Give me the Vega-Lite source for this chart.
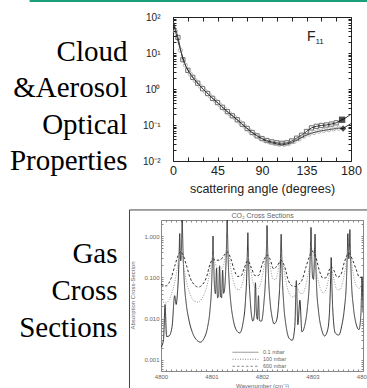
{
  "$schema": "https://vega.github.io/schema/vega-lite/v6.json",
  "autosize": {"type": "none"},
  "padding": {"left": 161, "top": 17, "right": 206, "bottom": 371},
  "background": "white",
  "config": {
    "view": {"stroke": null},
    "axis": {"grid": false, "labelFont": "Liberation Sans", "titleFont": "Liberation Sans", "labelOverlap": false, "labelFlush": false, "titleFontWeight": "normal"}
  },
  "datasets": {
    "phase": [
      {"angle": 0, "value": 80, "series": "sq"},
      {"angle": 5, "value": 27, "series": "sq"},
      {"angle": 10, "value": 6.5, "series": "sq"},
      {"angle": 15, "value": 3.3, "series": "sq"},
      {"angle": 20, "value": 2.1, "series": "sq"},
      {"angle": 25, "value": 1.45, "series": "sq"},
      {"angle": 30, "value": 1.02, "series": "sq"},
      {"angle": 35, "value": 0.75, "series": "sq"},
      {"angle": 40, "value": 0.55, "series": "sq"},
      {"angle": 45, "value": 0.42, "series": "sq"},
      {"angle": 50, "value": 0.31, "series": "sq"},
      {"angle": 55, "value": 0.235, "series": "sq"},
      {"angle": 60, "value": 0.18, "series": "sq"},
      {"angle": 65, "value": 0.14, "series": "sq"},
      {"angle": 70, "value": 0.105, "series": "sq"},
      {"angle": 75, "value": 0.08, "series": "sq"},
      {"angle": 80, "value": 0.062, "series": "sq"},
      {"angle": 85, "value": 0.05, "series": "sq"},
      {"angle": 90, "value": 0.042, "series": "sq"},
      {"angle": 95, "value": 0.037, "series": "sq"},
      {"angle": 100, "value": 0.034, "series": "sq"},
      {"angle": 105, "value": 0.032, "series": "sq"},
      {"angle": 110, "value": 0.031, "series": "sq"},
      {"angle": 115, "value": 0.032, "series": "sq"},
      {"angle": 120, "value": 0.036, "series": "sq"},
      {"angle": 125, "value": 0.043, "series": "sq"},
      {"angle": 130, "value": 0.052, "series": "sq"},
      {"angle": 135, "value": 0.066, "series": "sq"},
      {"angle": 140, "value": 0.083, "series": "sq"},
      {"angle": 145, "value": 0.092, "series": "sq"},
      {"angle": 150, "value": 0.097, "series": "sq"},
      {"angle": 155, "value": 0.1, "series": "sq"},
      {"angle": 160, "value": 0.106, "series": "sq"},
      {"angle": 165, "value": 0.115, "series": "sq"},
      {"angle": 170, "value": 0.135, "series": "sq"},
      {"angle": 175, "value": 0.16, "series": "sq"},
      {"angle": 180, "value": 0.2, "series": "sq"},
      {"angle": 0, "value": 80, "series": "ci"},
      {"angle": 2.5, "value": 40, "series": "ci"},
      {"angle": 7.5, "value": 12, "series": "ci"},
      {"angle": 12.5, "value": 4.6, "series": "ci"},
      {"angle": 17.5, "value": 2.6, "series": "ci"},
      {"angle": 22.5, "value": 1.7, "series": "ci"},
      {"angle": 27.5, "value": 1.2, "series": "ci"},
      {"angle": 32.5, "value": 0.87, "series": "ci"},
      {"angle": 37.5, "value": 0.64, "series": "ci"},
      {"angle": 42.5, "value": 0.48, "series": "ci"},
      {"angle": 47.5, "value": 0.36, "series": "ci"},
      {"angle": 52.5, "value": 0.27, "series": "ci"},
      {"angle": 57.5, "value": 0.205, "series": "ci"},
      {"angle": 62.5, "value": 0.16, "series": "ci"},
      {"angle": 67.5, "value": 0.12, "series": "ci"},
      {"angle": 72.5, "value": 0.092, "series": "ci"},
      {"angle": 77.5, "value": 0.07, "series": "ci"},
      {"angle": 82.5, "value": 0.055, "series": "ci"},
      {"angle": 87.5, "value": 0.045, "series": "ci"},
      {"angle": 92.5, "value": 0.038, "series": "ci"},
      {"angle": 97.5, "value": 0.034, "series": "ci"},
      {"angle": 102.5, "value": 0.031, "series": "ci"},
      {"angle": 107.5, "value": 0.029, "series": "ci"},
      {"angle": 112.5, "value": 0.029, "series": "ci"},
      {"angle": 117.5, "value": 0.031, "series": "ci"},
      {"angle": 122.5, "value": 0.035, "series": "ci"},
      {"angle": 127.5, "value": 0.041, "series": "ci"},
      {"angle": 132.5, "value": 0.049, "series": "ci"},
      {"angle": 137.5, "value": 0.056, "series": "ci"},
      {"angle": 142.5, "value": 0.062, "series": "ci"},
      {"angle": 147.5, "value": 0.067, "series": "ci"},
      {"angle": 152.5, "value": 0.071, "series": "ci"},
      {"angle": 157.5, "value": 0.074, "series": "ci"},
      {"angle": 162.5, "value": 0.078, "series": "ci"},
      {"angle": 167.5, "value": 0.082, "series": "ci"},
      {"angle": 172, "value": 0.08, "series": "ci"},
      {"angle": 180, "value": 0.11, "series": "ci"}
    ],
    "ends": [
      {"angle": 171, "value": 0.14, "series": "sq"},
      {"angle": 172, "value": 0.08, "series": "ci"}
    ],
    "spectra": [
      {"w": 4800.00, "c": 0.0020, "p": "0.1 mbar"},
      {"w": 4800.05, "c": 0.0031, "p": "0.1 mbar"},
      {"w": 4800.08, "c": 0.022, "p": "0.1 mbar"},
      {"w": 4800.11, "c": 0.0037, "p": "0.1 mbar"},
      {"w": 4800.16, "c": 0.0038, "p": "0.1 mbar"},
      {"w": 4800.22, "c": 0.0065, "p": "0.1 mbar"},
      {"w": 4800.27, "c": 0.036, "p": "0.1 mbar"},
      {"w": 4800.30, "c": 0.022, "p": "0.1 mbar"},
      {"w": 4800.33, "c": 0.050, "p": "0.1 mbar"},
      {"w": 4800.35, "c": 0.15, "p": "0.1 mbar"},
      {"w": 4800.36, "c": 0.40, "p": "0.1 mbar"},
      {"w": 4800.37, "c": 1.15, "p": "0.1 mbar"},
      {"w": 4800.38, "c": 0.44, "p": "0.1 mbar"},
      {"w": 4800.39, "c": 0.25, "p": "0.1 mbar"},
      {"w": 4800.40, "c": 0.34, "p": "0.1 mbar"},
      {"w": 4800.41, "c": 0.87, "p": "0.1 mbar"},
      {"w": 4800.42, "c": 2.5, "p": "0.1 mbar"},
      {"w": 4800.43, "c": 0.85, "p": "0.1 mbar"},
      {"w": 4800.44, "c": 0.29, "p": "0.1 mbar"},
      {"w": 4800.46, "c": 0.083, "p": "0.1 mbar"},
      {"w": 4800.50, "c": 0.023, "p": "0.1 mbar"},
      {"w": 4800.55, "c": 0.0097, "p": "0.1 mbar"},
      {"w": 4800.62, "c": 0.0047, "p": "0.1 mbar"},
      {"w": 4800.70, "c": 0.0031, "p": "0.1 mbar"},
      {"w": 4800.78, "c": 0.0027, "p": "0.1 mbar"},
      {"w": 4800.85, "c": 0.0033, "p": "0.1 mbar"},
      {"w": 4800.92, "c": 0.0060, "p": "0.1 mbar"},
      {"w": 4800.97, "c": 0.016, "p": "0.1 mbar"},
      {"w": 4801.00, "c": 0.055, "p": "0.1 mbar"},
      {"w": 4801.02, "c": 0.34, "p": "0.1 mbar"},
      {"w": 4801.03, "c": 1.0, "p": "0.1 mbar"},
      {"w": 4801.04, "c": 0.34, "p": "0.1 mbar"},
      {"w": 4801.06, "c": 0.060, "p": "0.1 mbar"},
      {"w": 4801.08, "c": 0.040, "p": "0.1 mbar"},
      {"w": 4801.10, "c": 0.165, "p": "0.1 mbar"},
      {"w": 4801.12, "c": 0.032, "p": "0.1 mbar"},
      {"w": 4801.14, "c": 0.034, "p": "0.1 mbar"},
      {"w": 4801.16, "c": 0.19, "p": "0.1 mbar"},
      {"w": 4801.18, "c": 0.035, "p": "0.1 mbar"},
      {"w": 4801.20, "c": 0.032, "p": "0.1 mbar"},
      {"w": 4801.22, "c": 0.15, "p": "0.1 mbar"},
      {"w": 4801.24, "c": 0.041, "p": "0.1 mbar"},
      {"w": 4801.26, "c": 0.053, "p": "0.1 mbar"},
      {"w": 4801.28, "c": 0.135, "p": "0.1 mbar"},
      {"w": 4801.29, "c": 0.28, "p": "0.1 mbar"},
      {"w": 4801.30, "c": 0.84, "p": "0.1 mbar"},
      {"w": 4801.31, "c": 2.5, "p": "0.1 mbar"},
      {"w": 4801.32, "c": 0.84, "p": "0.1 mbar"},
      {"w": 4801.33, "c": 0.28, "p": "0.1 mbar"},
      {"w": 4801.35, "c": 0.077, "p": "0.1 mbar"},
      {"w": 4801.38, "c": 0.026, "p": "0.1 mbar"},
      {"w": 4801.43, "c": 0.0095, "p": "0.1 mbar"},
      {"w": 4801.50, "c": 0.0051, "p": "0.1 mbar"},
      {"w": 4801.56, "c": 0.0045, "p": "0.1 mbar"},
      {"w": 4801.62, "c": 0.0074, "p": "0.1 mbar"},
      {"w": 4801.67, "c": 0.0245, "p": "0.1 mbar"},
      {"w": 4801.70, "c": 0.134, "p": "0.1 mbar"},
      {"w": 4801.71, "c": 0.40, "p": "0.1 mbar"},
      {"w": 4801.72, "c": 1.2, "p": "0.1 mbar"},
      {"w": 4801.73, "c": 0.40, "p": "0.1 mbar"},
      {"w": 4801.74, "c": 0.134, "p": "0.1 mbar"},
      {"w": 4801.77, "c": 0.025, "p": "0.1 mbar"},
      {"w": 4801.82, "c": 0.0087, "p": "0.1 mbar"},
      {"w": 4801.85, "c": 0.013, "p": "0.1 mbar"},
      {"w": 4801.87, "c": 0.074, "p": "0.1 mbar"},
      {"w": 4801.89, "c": 0.0128, "p": "0.1 mbar"},
      {"w": 4801.91, "c": 0.0096, "p": "0.1 mbar"},
      {"w": 4801.93, "c": 0.036, "p": "0.1 mbar"},
      {"w": 4801.95, "c": 0.009, "p": "0.1 mbar"},
      {"w": 4801.99, "c": 0.0087, "p": "0.1 mbar"},
      {"w": 4802.04, "c": 0.026, "p": "0.1 mbar"},
      {"w": 4802.07, "c": 0.096, "p": "0.1 mbar"},
      {"w": 4802.09, "c": 0.60, "p": "0.1 mbar"},
      {"w": 4802.10, "c": 1.8, "p": "0.1 mbar"},
      {"w": 4802.11, "c": 0.60, "p": "0.1 mbar"},
      {"w": 4802.13, "c": 0.095, "p": "0.1 mbar"},
      {"w": 4802.16, "c": 0.026, "p": "0.1 mbar"},
      {"w": 4802.20, "c": 0.0107, "p": "0.1 mbar"},
      {"w": 4802.24, "c": 0.0075, "p": "0.1 mbar"},
      {"w": 4802.28, "c": 0.0085, "p": "0.1 mbar"},
      {"w": 4802.33, "c": 0.024, "p": "0.1 mbar"},
      {"w": 4802.36, "c": 0.123, "p": "0.1 mbar"},
      {"w": 4802.37, "c": 0.37, "p": "0.1 mbar"},
      {"w": 4802.38, "c": 1.1, "p": "0.1 mbar"},
      {"w": 4802.39, "c": 0.37, "p": "0.1 mbar"},
      {"w": 4802.40, "c": 0.123, "p": "0.1 mbar"},
      {"w": 4802.43, "c": 0.023, "p": "0.1 mbar"},
      {"w": 4802.48, "c": 0.0063, "p": "0.1 mbar"},
      {"w": 4802.54, "c": 0.0033, "p": "0.1 mbar"},
      {"w": 4802.60, "c": 0.0030, "p": "0.1 mbar"},
      {"w": 4802.65, "c": 0.0065, "p": "0.1 mbar"},
      {"w": 4802.68, "c": 0.083, "p": "0.1 mbar"},
      {"w": 4802.71, "c": 0.0071, "p": "0.1 mbar"},
      {"w": 4802.75, "c": 0.028, "p": "0.1 mbar"},
      {"w": 4802.79, "c": 0.0048, "p": "0.1 mbar"},
      {"w": 4802.85, "c": 0.0072, "p": "0.1 mbar"},
      {"w": 4802.90, "c": 0.019, "p": "0.1 mbar"},
      {"w": 4802.94, "c": 0.089, "p": "0.1 mbar"},
      {"w": 4802.96, "c": 0.54, "p": "0.1 mbar"},
      {"w": 4802.97, "c": 1.61, "p": "0.1 mbar"},
      {"w": 4802.98, "c": 0.545, "p": "0.1 mbar"},
      {"w": 4803.00, "c": 0.106, "p": "0.1 mbar"},
      {"w": 4803.02, "c": 0.089, "p": "0.1 mbar"},
      {"w": 4803.04, "c": 0.383, "p": "0.1 mbar"},
      {"w": 4803.05, "c": 1.11, "p": "0.1 mbar"},
      {"w": 4803.06, "c": 0.377, "p": "0.1 mbar"},
      {"w": 4803.08, "c": 0.064, "p": "0.1 mbar"},
      {"w": 4803.12, "c": 0.015, "p": "0.1 mbar"},
      {"w": 4803.18, "c": 0.0055, "p": "0.1 mbar"},
      {"w": 4803.24, "c": 0.0038, "p": "0.1 mbar"},
      {"w": 4803.30, "c": 0.0053, "p": "0.1 mbar"},
      {"w": 4803.34, "c": 0.018, "p": "0.1 mbar"},
      {"w": 4803.36, "c": 0.102, "p": "0.1 mbar"},
      {"w": 4803.37, "c": 0.302, "p": "0.1 mbar"},
      {"w": 4803.38, "c": 0.10, "p": "0.1 mbar"},
      {"w": 4803.40, "c": 0.018, "p": "0.1 mbar"},
      {"w": 4803.45, "c": 0.0045, "p": "0.1 mbar"},
      {"w": 4803.52, "c": 0.0040, "p": "0.1 mbar"},
      {"w": 4803.58, "c": 0.0068, "p": "0.1 mbar"},
      {"w": 4803.63, "c": 0.017, "p": "0.1 mbar"},
      {"w": 4803.67, "c": 0.072, "p": "0.1 mbar"},
      {"w": 4803.69, "c": 0.39, "p": "0.1 mbar"},
      {"w": 4803.70, "c": 1.14, "p": "0.1 mbar"},
      {"w": 4803.71, "c": 0.44, "p": "0.1 mbar"},
      {"w": 4803.72, "c": 0.28, "p": "0.1 mbar"},
      {"w": 4803.73, "c": 0.525, "p": "0.1 mbar"},
      {"w": 4803.74, "c": 1.43, "p": "0.1 mbar"},
      {"w": 4803.75, "c": 0.49, "p": "0.1 mbar"},
      {"w": 4803.77, "c": 0.085, "p": "0.1 mbar"},
      {"w": 4803.81, "c": 0.019, "p": "0.1 mbar"},
      {"w": 4803.86, "c": 0.0078, "p": "0.1 mbar"},
      {"w": 4803.92, "c": 0.0054, "p": "0.1 mbar"},
      {"w": 4803.96, "c": 0.014, "p": "0.1 mbar"},
      {"w": 4803.98, "c": 0.103, "p": "0.1 mbar"},
      {"w": 4804.00, "c": 0.014, "p": "0.1 mbar"},
      {"w": 4800.00, "c": 0.027, "p": "100 mbar"},
      {"w": 4800.10, "c": 0.024, "p": "100 mbar"},
      {"w": 4800.20, "c": 0.037, "p": "100 mbar"},
      {"w": 4800.27, "c": 0.074, "p": "100 mbar"},
      {"w": 4800.32, "c": 0.158, "p": "100 mbar"},
      {"w": 4800.36, "c": 0.337, "p": "100 mbar"},
      {"w": 4800.39, "c": 0.456, "p": "100 mbar"},
      {"w": 4800.42, "c": 0.337, "p": "100 mbar"},
      {"w": 4800.46, "c": 0.158, "p": "100 mbar"},
      {"w": 4800.51, "c": 0.074, "p": "100 mbar"},
      {"w": 4800.58, "c": 0.038, "p": "100 mbar"},
      {"w": 4800.66, "c": 0.0266, "p": "100 mbar"},
      {"w": 4800.74, "c": 0.025, "p": "100 mbar"},
      {"w": 4800.82, "c": 0.032, "p": "100 mbar"},
      {"w": 4800.90, "c": 0.056, "p": "100 mbar"},
      {"w": 4800.96, "c": 0.121, "p": "100 mbar"},
      {"w": 4801.00, "c": 0.245, "p": "100 mbar"},
      {"w": 4801.03, "c": 0.332, "p": "100 mbar"},
      {"w": 4801.07, "c": 0.228, "p": "100 mbar"},
      {"w": 4801.12, "c": 0.163, "p": "100 mbar"},
      {"w": 4801.16, "c": 0.186, "p": "100 mbar"},
      {"w": 4801.20, "c": 0.165, "p": "100 mbar"},
      {"w": 4801.24, "c": 0.199, "p": "100 mbar"},
      {"w": 4801.28, "c": 0.36, "p": "100 mbar"},
      {"w": 4801.31, "c": 0.475, "p": "100 mbar"},
      {"w": 4801.34, "c": 0.353, "p": "100 mbar"},
      {"w": 4801.38, "c": 0.171, "p": "100 mbar"},
      {"w": 4801.43, "c": 0.084, "p": "100 mbar"},
      {"w": 4801.49, "c": 0.053, "p": "100 mbar"},
      {"w": 4801.55, "c": 0.050, "p": "100 mbar"},
      {"w": 4801.60, "c": 0.064, "p": "100 mbar"},
      {"w": 4801.65, "c": 0.116, "p": "100 mbar"},
      {"w": 4801.69, "c": 0.234, "p": "100 mbar"},
      {"w": 4801.72, "c": 0.315, "p": "100 mbar"},
      {"w": 4801.76, "c": 0.198, "p": "100 mbar"},
      {"w": 4801.81, "c": 0.088, "p": "100 mbar"},
      {"w": 4801.87, "c": 0.053, "p": "100 mbar"},
      {"w": 4801.93, "c": 0.054, "p": "100 mbar"},
      {"w": 4801.99, "c": 0.086, "p": "100 mbar"},
      {"w": 4802.04, "c": 0.178, "p": "100 mbar"},
      {"w": 4802.07, "c": 0.308, "p": "100 mbar"},
      {"w": 4802.10, "c": 0.416, "p": "100 mbar"},
      {"w": 4802.13, "c": 0.31, "p": "100 mbar"},
      {"w": 4802.17, "c": 0.156, "p": "100 mbar"},
      {"w": 4802.22, "c": 0.091, "p": "100 mbar"},
      {"w": 4802.27, "c": 0.088, "p": "100 mbar"},
      {"w": 4802.31, "c": 0.125, "p": "100 mbar"},
      {"w": 4802.35, "c": 0.238, "p": "100 mbar"},
      {"w": 4802.38, "c": 0.316, "p": "100 mbar"},
      {"w": 4802.41, "c": 0.233, "p": "100 mbar"},
      {"w": 4802.45, "c": 0.114, "p": "100 mbar"},
      {"w": 4802.50, "c": 0.057, "p": "100 mbar"},
      {"w": 4802.56, "c": 0.036, "p": "100 mbar"},
      {"w": 4802.62, "c": 0.033, "p": "100 mbar"},
      {"w": 4802.66, "c": 0.040, "p": "100 mbar"},
      {"w": 4802.70, "c": 0.054, "p": "100 mbar"},
      {"w": 4802.75, "c": 0.041, "p": "100 mbar"},
      {"w": 4802.80, "c": 0.040, "p": "100 mbar"},
      {"w": 4802.86, "c": 0.059, "p": "100 mbar"},
      {"w": 4802.92, "c": 0.132, "p": "100 mbar"},
      {"w": 4802.96, "c": 0.28, "p": "100 mbar"},
      {"w": 4803.00, "c": 0.457, "p": "100 mbar"},
      {"w": 4803.04, "c": 0.282, "p": "100 mbar"},
      {"w": 4803.09, "c": 0.115, "p": "100 mbar"},
      {"w": 4803.15, "c": 0.056, "p": "100 mbar"},
      {"w": 4803.21, "c": 0.042, "p": "100 mbar"},
      {"w": 4803.27, "c": 0.051, "p": "100 mbar"},
      {"w": 4803.32, "c": 0.093, "p": "100 mbar"},
      {"w": 4803.37, "c": 0.167, "p": "100 mbar"},
      {"w": 4803.42, "c": 0.095, "p": "100 mbar"},
      {"w": 4803.48, "c": 0.051, "p": "100 mbar"},
      {"w": 4803.54, "c": 0.050, "p": "100 mbar"},
      {"w": 4803.60, "c": 0.079, "p": "100 mbar"},
      {"w": 4803.65, "c": 0.162, "p": "100 mbar"},
      {"w": 4803.69, "c": 0.34, "p": "100 mbar"},
      {"w": 4803.72, "c": 0.46, "p": "100 mbar"},
      {"w": 4803.76, "c": 0.284, "p": "100 mbar"},
      {"w": 4803.81, "c": 0.116, "p": "100 mbar"},
      {"w": 4803.87, "c": 0.061, "p": "100 mbar"},
      {"w": 4803.93, "c": 0.054, "p": "100 mbar"},
      {"w": 4803.98, "c": 0.069, "p": "100 mbar"},
      {"w": 4804.00, "c": 0.064, "p": "100 mbar"},
      {"w": 4800.00, "c": 0.068, "p": "600 mbar"},
      {"w": 4800.10, "c": 0.062, "p": "600 mbar"},
      {"w": 4800.20, "c": 0.095, "p": "600 mbar"},
      {"w": 4800.28, "c": 0.202, "p": "600 mbar"},
      {"w": 4800.34, "c": 0.34, "p": "600 mbar"},
      {"w": 4800.39, "c": 0.42, "p": "600 mbar"},
      {"w": 4800.44, "c": 0.34, "p": "600 mbar"},
      {"w": 4800.50, "c": 0.202, "p": "600 mbar"},
      {"w": 4800.58, "c": 0.095, "p": "600 mbar"},
      {"w": 4800.66, "c": 0.066, "p": "600 mbar"},
      {"w": 4800.74, "c": 0.058, "p": "600 mbar"},
      {"w": 4800.82, "c": 0.066, "p": "600 mbar"},
      {"w": 4800.90, "c": 0.10, "p": "600 mbar"},
      {"w": 4800.97, "c": 0.205, "p": "600 mbar"},
      {"w": 4801.03, "c": 0.279, "p": "600 mbar"},
      {"w": 4801.10, "c": 0.259, "p": "600 mbar"},
      {"w": 4801.17, "c": 0.262, "p": "600 mbar"},
      {"w": 4801.24, "c": 0.327, "p": "600 mbar"},
      {"w": 4801.31, "c": 0.413, "p": "600 mbar"},
      {"w": 4801.38, "c": 0.288, "p": "600 mbar"},
      {"w": 4801.45, "c": 0.15, "p": "600 mbar"},
      {"w": 4801.52, "c": 0.105, "p": "600 mbar"},
      {"w": 4801.59, "c": 0.11, "p": "600 mbar"},
      {"w": 4801.65, "c": 0.17, "p": "600 mbar"},
      {"w": 4801.72, "c": 0.252, "p": "600 mbar"},
      {"w": 4801.79, "c": 0.17, "p": "600 mbar"},
      {"w": 4801.86, "c": 0.11, "p": "600 mbar"},
      {"w": 4801.93, "c": 0.11, "p": "600 mbar"},
      {"w": 4802.00, "c": 0.199, "p": "600 mbar"},
      {"w": 4802.05, "c": 0.284, "p": "600 mbar"},
      {"w": 4802.10, "c": 0.346, "p": "600 mbar"},
      {"w": 4802.16, "c": 0.275, "p": "600 mbar"},
      {"w": 4802.23, "c": 0.16, "p": "600 mbar"},
      {"w": 4802.30, "c": 0.19, "p": "600 mbar"},
      {"w": 4802.38, "c": 0.255, "p": "600 mbar"},
      {"w": 4802.45, "c": 0.179, "p": "600 mbar"},
      {"w": 4802.52, "c": 0.085, "p": "600 mbar"},
      {"w": 4802.60, "c": 0.062, "p": "600 mbar"},
      {"w": 4802.66, "c": 0.06, "p": "600 mbar"},
      {"w": 4802.73, "c": 0.068, "p": "600 mbar"},
      {"w": 4802.80, "c": 0.09, "p": "600 mbar"},
      {"w": 4802.87, "c": 0.176, "p": "600 mbar"},
      {"w": 4802.94, "c": 0.319, "p": "600 mbar"},
      {"w": 4803.00, "c": 0.426, "p": "600 mbar"},
      {"w": 4803.07, "c": 0.296, "p": "600 mbar"},
      {"w": 4803.14, "c": 0.14, "p": "600 mbar"},
      {"w": 4803.21, "c": 0.095, "p": "600 mbar"},
      {"w": 4803.28, "c": 0.10, "p": "600 mbar"},
      {"w": 4803.33, "c": 0.15, "p": "600 mbar"},
      {"w": 4803.37, "c": 0.179, "p": "600 mbar"},
      {"w": 4803.42, "c": 0.15, "p": "600 mbar"},
      {"w": 4803.49, "c": 0.10, "p": "600 mbar"},
      {"w": 4803.56, "c": 0.115, "p": "600 mbar"},
      {"w": 4803.63, "c": 0.23, "p": "600 mbar"},
      {"w": 4803.72, "c": 0.383, "p": "600 mbar"},
      {"w": 4803.79, "c": 0.27, "p": "600 mbar"},
      {"w": 4803.86, "c": 0.162, "p": "600 mbar"},
      {"w": 4803.93, "c": 0.10, "p": "600 mbar"},
      {"w": 4804.00, "c": 0.10, "p": "600 mbar"}
    ]
  },
  "spacing": 59,
  "bounds": "flush",
  "center": true,
  "vconcat": [
    {
      "width": 178,
      "height": 144,
      "view": {"stroke": "#222", "strokeWidth": 1},
      "resolve": {"axis": {"x": "independent", "y": "independent"}},
      "layer": [
        {
          "data": {"name": "phase"},
          "mark": {"type": "line", "color": "#333", "strokeWidth": 1, "clip": true},
          "encoding": {
            "x": {"field": "angle", "type": "quantitative",
              "scale": {"domain": [0, 180], "nice": false, "zero": false},
              "axis": {"orient": "bottom", "values": [0,15,30,45,60,75,90,105,120,135,150,165,180],
                "labelExpr": "datum.value % 45 === 0 ? datum.label : ''",
                "tickSize": -4, "tickColor": "#222", "domain": false,
                "labelFontSize": 12.5, "labelColor": "#222", "labelPadding": 7,
                "title": "scattering angle (degrees)", "titleFontSize": 12.5, "titleColor": "#222",
                "titleX": 89, "titleY": 27, "titleBaseline": "middle", "titleAlign": "center"}},
            "y": {"field": "value", "type": "quantitative",
              "scale": {"type": "log", "domain": [0.01, 100], "nice": false},
              "axis": {"orient": "left", "values": [0.01,0.02,0.03,0.04,0.05,0.06,0.07,0.08,0.09,0.1,0.2,0.3,0.4,0.5,0.6,0.7,0.8,0.9,1,2,3,4,5,6,7,8,9,10,20,30,40,50,60,70,80,90,100],
                "labelExpr": "datum.value === 100 ? '10²' : datum.value === 10 ? '10¹' : datum.value === 1 ? '10⁰' : datum.value === 0.1 ? '10⁻¹' : datum.value === 0.01 ? '10⁻²' : ''",
                "tickSize": -3, "tickColor": "#222", "domain": false,
                "labelFontSize": 10, "labelColor": "#222", "labelPadding": 16,
                "title": ["Cloud", "&Aerosol", "Optical", "Properties"],
                "titleFont": "Liberation Serif", "titleFontSize": 29, "titleColor": "#000",
                "titleAngle": 0, "titleAlign": "right", "titleBaseline": "alphabetic",
                "titleX": -46, "titleY": 43, "titleLineHeight": 36.5}},
            "detail": {"field": "series"}
          }
        },
        {
          "data": {"name": "phase"},
          "transform": [{"filter": "datum.angle > 1 && datum.angle < 169"}],
          "mark": {"type": "point", "filled": false, "size": 18, "strokeWidth": 1, "clip": true},
          "encoding": {
            "x": {"field": "angle", "type": "quantitative",
              "axis": {"orient": "top", "values": [0,15,30,45,60,75,90,105,120,135,150,165,180], "labels": false, "tickSize": -4, "tickColor": "#222", "domain": false, "title": null}},
            "y": {"field": "value", "type": "quantitative",
              "axis": {"orient": "right", "values": [0.01,0.02,0.03,0.04,0.05,0.06,0.07,0.08,0.09,0.1,0.2,0.3,0.4,0.5,0.6,0.7,0.8,0.9,1,2,3,4,5,6,7,8,9,10,20,30,40,50,60,70,80,90,100], "labels": false, "tickSize": -3, "tickColor": "#222", "domain": false, "title": null}},
            "shape": {"field": "series", "type": "nominal", "scale": {"domain": ["sq", "ci"], "range": ["square", "circle"]}, "legend": null},
            "color": {"field": "series", "type": "nominal", "scale": {"domain": ["sq", "ci"], "range": ["#333", "#999"]}, "legend": null}
          }
        },
        {
          "data": {"name": "ends"},
          "transform": [{"filter": "datum.series === 'sq'"}],
          "mark": {"type": "point", "filled": true, "shape": "square", "size": 40, "color": "#000"},
          "encoding": {
            "x": {"field": "angle", "type": "quantitative", "axis": null},
            "y": {"field": "value", "type": "quantitative", "axis": null}
          }
        },
        {
          "data": {"name": "ends"},
          "transform": [{"filter": "datum.series === 'ci'"}],
          "mark": {"type": "point", "filled": true, "shape": "diamond", "size": 40, "color": "#000"},
          "encoding": {
            "x": {"field": "angle", "type": "quantitative", "axis": null},
            "y": {"field": "value", "type": "quantitative", "axis": null}
          }
        },
        {
          "data": {"values": [{"angle": 135.5, "value": 28, "t": "F", "s": "11"}]},
          "mark": {"type": "text", "font": "Liberation Sans", "fontSize": 14, "align": "left", "baseline": "middle", "color": "#222"},
          "encoding": {
            "x": {"field": "angle", "type": "quantitative", "axis": null},
            "y": {"field": "value", "type": "quantitative", "axis": null},
            "text": {"field": "t"}
          }
        },
        {
          "data": {"values": [{"angle": 135.5, "value": 28, "t": "F", "s": "11"}]},
          "mark": {"type": "text", "font": "Liberation Sans", "fontSize": 8, "align": "left", "baseline": "middle", "dx": 8.5, "dy": 5, "color": "#222"},
          "encoding": {
            "x": {"field": "angle", "type": "quantitative", "axis": null},
            "y": {"field": "value", "type": "quantitative", "axis": null},
            "text": {"field": "s"}
          }
        },
        {
          "data": {"values": [{}]},
          "mark": {"type": "rule", "color": "#1a9f7a", "strokeWidth": 2, "clip": false},
          "encoding": {
            "x": {"datum": -145, "type": "quantitative", "axis": null},
            "x2": {"datum": 200},
            "y": {"datum": 278, "type": "quantitative", "axis": null}
          }
        }
      ]
    },
    {
      "width": 202,
      "height": 151,
      "view": {"stroke": "#888", "strokeWidth": 1},
      "resolve": {"axis": {"x": "independent", "y": "independent"}},
      "layer": [
        {
          "data": {"name": "spectra"},
          "mark": {"type": "line", "strokeWidth": 1, "clip": true, "interpolate": "monotone"},
          "encoding": {
            "x": {"field": "w", "type": "quantitative",
              "scale": {"domain": [4800, 4804], "nice": false, "zero": false},
              "axis": {"orient": "bottom", "values": [4800,4800.1,4800.2,4800.3,4800.4,4800.5,4800.6,4800.7,4800.8,4800.9,4801,4801.1,4801.2,4801.3,4801.4,4801.5,4801.6,4801.7,4801.8,4801.9,4802,4802.1,4802.2,4802.3,4802.4,4802.5,4802.6,4802.7,4802.8,4802.9,4803,4803.1,4803.2,4803.3,4803.4,4803.5,4803.6,4803.7,4803.8,4803.9,4804],
                "labelExpr": "datum.value % 1 === 0 ? format(datum.value, 'd') : ''",
                "tickSize": -2, "tickColor": "#888", "domain": false,
                "labelFontSize": 6, "labelColor": "#666", "labelPadding": 4,
                "title": "Wavenumber (cm⁻¹)", "titleFontSize": 6, "titleColor": "#666",
                "titleX": 101, "titleY": 14, "titleBaseline": "middle", "titleAlign": "center"}},
            "y": {"field": "c", "type": "quantitative",
              "scale": {"type": "log", "domain": [0.00054, 2.44], "nice": false},
              "axis": {"orient": "left", "values": [0.0006,0.0007,0.0008,0.0009,0.001,0.002,0.003,0.004,0.005,0.006,0.007,0.008,0.009,0.01,0.02,0.03,0.04,0.05,0.06,0.07,0.08,0.09,0.1,0.2,0.3,0.4,0.5,0.6,0.7,0.8,0.9,1,2],
                "labelExpr": "datum.value === 1 ? '1.000' : datum.value === 0.1 ? '0.100' : datum.value === 0.01 ? '0.010' : datum.value === 0.001 ? '0.001' : ''",
                "tickSize": -2, "tickColor": "#888", "domain": false,
                "labelFontSize": 6, "labelColor": "#666", "labelPadding": 4,
                "title": "Absorption Cross-Section", "titleFontSize": 6, "titleColor": "#666",
                "titleX": -29, "titleY": 75, "titleAngle": -90, "titleBaseline": "middle", "titleAlign": "center"}},
            "color": {"field": "p", "type": "nominal", "title": null,
              "scale": {"domain": ["0.1 mbar", "100 mbar", "600 mbar"], "range": ["#444", "#bbb", "#a5a5a5"]},
              "legend": {"orient": "none", "legendX": 71, "legendY": 332, "title": null, "symbolType": "stroke", "symbolSize": 676, "symbolStrokeWidth": 1, "clipHeight": 6.5, "labelFontSize": 5.5, "labelFont": "Liberation Sans", "labelColor": "#666", "labelOffset": 4, "rowPadding": 0, "padding": 0}},
            "strokeDash": {"field": "p", "type": "nominal", "title": null,
              "scale": {"domain": ["0.1 mbar", "100 mbar", "600 mbar"], "range": [[1, 0], [1, 1.5], [2.5, 2]]},
              "legend": {"orient": "none", "legendX": 71, "legendY": 332, "title": null, "symbolType": "stroke", "symbolSize": 676, "symbolStrokeWidth": 1, "clipHeight": 6.5, "labelFontSize": 5.5, "labelFont": "Liberation Sans", "labelColor": "#666", "labelOffset": 4, "rowPadding": 0, "padding": 0}}
          }
        },
        {
          "data": {"values": [{}]},
          "mark": {"type": "rule", "color": "#444", "strokeWidth": 1, "clip": false},
          "encoding": {
            "x": {"datum": 4799.376, "type": "quantitative",
              "axis": {"orient": "top", "values": [4800,4800.1,4800.2,4800.3,4800.4,4800.5,4800.6,4800.7,4800.8,4800.9,4801,4801.1,4801.2,4801.3,4801.4,4801.5,4801.6,4801.7,4801.8,4801.9,4802,4802.1,4802.2,4802.3,4802.4,4802.5,4802.6,4802.7,4802.8,4802.9,4803,4803.1,4803.2,4803.3,4803.4,4803.5,4803.6,4803.7,4803.8,4803.9,4804],
                "labels": false, "tickSize": -2, "tickColor": "#888", "domain": false,
                "title": "CO₂ Cross Sections", "titleFontSize": 7, "titleColor": "#666",
                "titleX": 101, "titleY": -5, "titleBaseline": "middle", "titleAlign": "center"}},
            "y": {"datum": 4.27, "type": "quantitative",
              "axis": {"orient": "right", "values": [0.0006,0.0007,0.0008,0.0009,0.001,0.002,0.003,0.004,0.005,0.006,0.007,0.008,0.009,0.01,0.02,0.03,0.04,0.05,0.06,0.07,0.08,0.09,0.1,0.2,0.3,0.4,0.5,0.6,0.7,0.8,0.9,1,2],
                "labels": false, "tickSize": -2, "tickColor": "#888", "domain": false, "title": null}},
            "y2": {"datum": 0.00001}
          }
        },
        {
          "data": {"values": [{}]},
          "mark": {"type": "rule", "color": "#444", "strokeWidth": 1, "clip": false},
          "encoding": {
            "x": {"datum": 4799.376, "type": "quantitative", "axis": null},
            "x2": {"datum": 4805},
            "y": {"datum": 4.27, "type": "quantitative",
              "axis": {"orient": "left", "domain": false, "ticks": false, "labels": false,
                "title": ["Gas", "Cross", "Sections"],
                "titleFont": "Liberation Serif", "titleFontSize": 29, "titleColor": "#000",
                "titleAngle": 0, "titleAlign": "right", "titleBaseline": "alphabetic",
                "titleX": -44, "titleY": 42, "titleLineHeight": 37}}
          }
        }
      ]
    }
  ]
}
